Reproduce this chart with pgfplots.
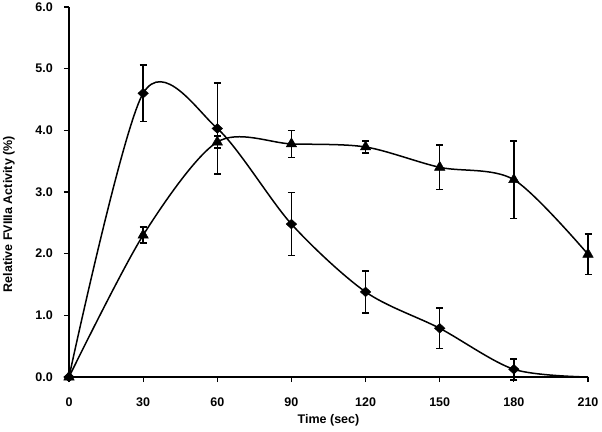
\documentclass[border=0pt]{standalone}
\usepackage{fontspec}
\setmainfont{Liberation Sans}
\usepackage{pgfplots}
\pgfplotsset{compat=1.18}
\begin{document}
\begin{tikzpicture}
\begin{axis}[
  at={(0pt,0pt)}, anchor=south west,
  scale only axis, width=519pt, height=370pt,
  xmin=0, xmax=210, ymin=0, ymax=6,
  axis x line*=bottom, axis y line*=left,
  xtick={0,30,...,210}, ytick={0,1,...,6},
  tick align=outside, major tick length=5pt,
  tick style={black, line width=1.2pt},
  axis line style={black, line width=1.2pt},
  /pgf/number format/assume math mode=true,
  ticklabel style={font=\fontsize{12.5}{15}\selectfont\bfseries},
  yticklabel={\pgfmathprintnumber[fixed,fixed zerofill,precision=1]{\tick}},
  xticklabel={\pgfmathprintnumber[fixed,precision=0]{\tick}},
  yticklabel style={anchor=east, inner sep=0pt, xshift=-11pt},
  xticklabel style={anchor=north, inner sep=0pt, yshift=-16pt},
  xlabel={Time (sec)},
  ylabel={Relative FVIIIa Activity (\%)},
  label style={font=\fontsize{12.5}{15}\selectfont\bfseries, inner sep=0pt},
  xlabel style={at={(axis description cs:0.5,-0.1008)}, anchor=north},
  ylabel style={at={(axis description cs:-0.104,0.44)}, anchor=south, rotate=0},
  clip=false,
]
% curves
\addplot[black, line width=1.5pt, smooth, no marks] coordinates {
  (0,0) (30,4.60) (60,4.03) (90,2.48) (120,1.38) (150,0.79) (180,0.125) (210,0)
};
\addplot[black, line width=1.5pt, smooth, no marks] coordinates {
  (0,0) (30,2.30) (60,3.81) (90,3.78) (120,3.73) (150,3.40) (180,3.20) (210,1.99)
};
% triangles with error bars
\addplot[only marks, mark=triangle*, mark size=6pt, mark options={black, fill=black, line width=0.5pt},
  error bars/.cd, y dir=both, y explicit,
  error bar style={black, line width=1.5pt},
  error mark options={rotate=90, mark size=3.5pt, line width=1.5pt, black}]
  coordinates {
  (0,0) +- (0,0)
  (30,2.30) +- (0,0.13)
  (60,3.81) +- (0,0.10)
  (90,3.78) +- (0,0.22)
  (120,3.73) +- (0,0.10)
  (150,3.40) +- (0,0.36)
  (180,3.20) +- (0,0.63)
  (210,1.99) +- (0,0.33)
};
% diamonds with error bars
\addplot[only marks, mark=diamond*, mark size=4.8pt, mark options={black, fill=black, xscale=1.45, line width=0.5pt},
  error bars/.cd, y dir=both, y explicit,
  error bar style={black, line width=1.5pt},
  error mark options={rotate=90, mark size=3.5pt, line width=1.5pt, black}]
  coordinates {
  (0,0) +- (0,0)
  (30,4.60) +- (0,0.46)
  (60,4.03) +- (0,0.74)
  (90,2.48) +- (0,0.51)
  (120,1.38) +- (0,0.34)
  (150,0.79) +- (0,0.33)
  (180,0.125) +- (0,0.17)
};
\end{axis}
\pgfresetboundingbox
\path (-69pt,-54pt) rectangle (533pt,377pt);
\end{tikzpicture}
\end{document}
